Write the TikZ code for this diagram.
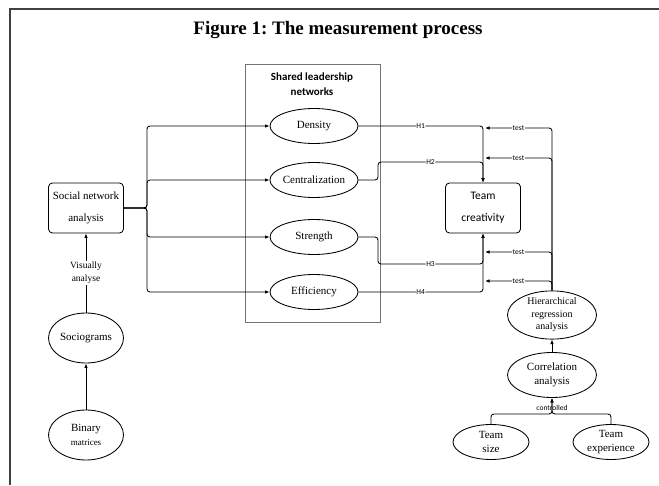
\documentclass[tikz,border=0pt]{standalone}
\usepackage{fontspec}
\setmainfont{Liberation Serif}
\newfontfamily\calfont{Carlito}
\usetikzlibrary{shapes.geometric,arrows.meta}
\frenchspacing

\begin{document}
\begin{tikzpicture}[x=1pt,y=-1pt,line width=0.85pt,
	oval/.style={draw, ellipse, inner sep=0pt, align=center, font=\fontsize{11}{14}\selectfont},
	rbox/.style={draw, rounded corners=4pt, minimum width=75pt, minimum height=50pt, inner sep=0pt, align=center},
	arr/.style={-{Latex[length=4.5pt,width=3.5pt]}, rounded corners=3pt},
	lab/.style={fill=white, inner sep=0.6pt, font=\calfont\fontsize{7.5}{8}\selectfont}]
		\useasboundingbox (0,0) rectangle (659,485);

			%Frame and title
			\draw[line width=1.4pt, black!75] (10,485) -- (10,9) -- (659,9);
			\node[font=\bfseries\fontsize{19}{21}\selectfont] (title) at (338,30) {Figure 1: The measurement process};

			%Shared leadership networks
			\draw[line width=0.9pt, black!55] (245,64) rectangle (380,322);
			\node[align=center, font=\calfont\bfseries\fontsize{11}{15}\selectfont] (shared) at (312,84) {Shared leadership\\networks};
			\foreach \nm/\txt/\y in {dens/Density/126, cent/Centralization/180, str/Strength/237, eff/Efficiency/292}
				\node[oval, minimum width=88pt, minimum height=35pt] (\nm) at (314,\y) {\txt};

			%Left column
			\node[rbox, font=\fontsize{11}{22}\selectfont] (sna) at (86,208) {Social network\\analysis};
			\node[oval, minimum width=75pt, minimum height=50pt] (soc) at (86,338) {Sociograms};
			\node[oval, minimum width=75pt, minimum height=50pt] (bin) at (86,435) {Binary\\{\fontsize{9}{11}\selectfont matrices}};
			\draw[arr] (bin) -- (soc);
			\draw[arr] (soc) -- node[fill=white, inner sep=1pt, align=center, font=\fontsize{9.5}{13}\selectfont] {Visually\\analyse} (sna);
			\foreach \nm in {dens, cent, str, eff}
				\draw[arr] (sna.east) -- (147,208) |- (\nm.west);

			%Team creativity and hypotheses
			\node[rbox, font=\calfont\fontsize{11.5}{22}\selectfont] (tc) at (483,208) {Team\\creativity};
			\draw[arr] (dens.east) -- node[lab] {H1} (tc.north |- dens.east) -- (tc.north);
			\draw[arr] (cent.east) -- (378,180) -- (378,162) -- node[lab] {H2} (483,162) -- (tc.north);
			\draw[arr] (str.east) -- (378,237) -- (378,264) -- node[lab] {H3} (483,264) -- (tc.south);
			\draw[arr] (eff.east) -- node[lab] {H4} (tc.south |- eff.east) -- (tc.south);

			%Analysis
			\node[oval, minimum width=89pt, minimum height=46pt, font=\fontsize{10}{12.5}\selectfont] (hra) at (552,315) {Hierarchical\\regression\\analysis};
			\node[oval, minimum width=89pt, minimum height=45pt] (corr) at (552,375) {Correlation\\analysis};
			\node[oval, minimum width=76pt, minimum height=35pt] (tsize) at (491,442) {Team\\size};
			\node[oval, minimum width=76pt, minimum height=35pt] (texp) at (611,442) {Team\\experience};
			\draw[arr] (corr) -- (hra);
			\foreach \y in {128, 158, 252, 281}
				\draw[arr] (hra.north) -- (552,\y) -- node[lab] {test} (485,\y);
			\draw[arr] (tsize.north) -- (491,414) -- (552,414) -- (corr.south);
			\draw[arr] (texp.north) -- (611,414) -- (552,414) -- (corr.south);
			\node[inner sep=0pt, font=\calfont\fontsize{7.5}{8}\selectfont] (ctl) at (552,408) {controlled};
\end{tikzpicture}
\end{document}
